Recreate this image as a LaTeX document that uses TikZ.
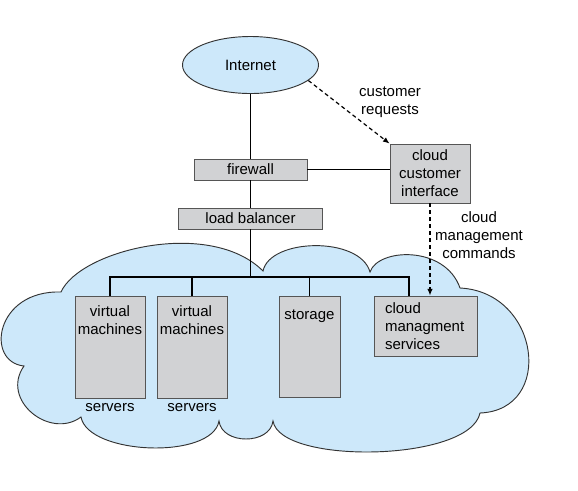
\documentclass[tikz,border=0pt]{standalone}
\usepackage{fontspec}
\setmainfont{Liberation Sans}
\usetikzlibrary{shapes.geometric,arrows.meta}

\definecolor{cloudblue}{RGB}{205,232,250}
\definecolor{boxgray}{RGB}{209,210,212}
\definecolor{edgegray}{RGB}{85,85,85}

\begin{document}
\begin{tikzpicture}[x=0.75pt,y=-0.75pt,
    every node/.style={font=\fontsize{11.25}{13.5}\selectfont},
    box/.style={draw=edgegray, fill=boxgray, line width=0.6pt, inner sep=0pt},
    wire/.style={line width=0.9pt},
    cmd/.style={line width=0.9pt, dash pattern=on 3pt off 2.25pt, -{Latex[length=5pt,width=4pt]}},
    boxtext/.style={anchor=north, inner sep=0pt, align=center}]
    \useasboundingbox (0,0) rectangle (578,490);

    % the cloud
    \draw[fill=cloudblue, line width=0.7pt, draw=black!80] (61,292)
        .. controls (80,250) and (210,218) .. (263,271)
        .. controls (270,238) and (360,236) .. (370,272)
        .. controls (378,248) and (445,245) .. (460,288)
        .. controls (540,292) and (555,410) .. (480,413)
        .. controls (470,462) and (280,465) .. (273,421)
        .. controls (270,445) and (222,445) .. (219,421)
        .. controls (212,460) and (88,455) .. (81,417)
        .. controls (50,440) and (0,400) .. (24,366)
        .. controls (-15,362) and (-5,290) .. (61,292) -- cycle;

    \node[ellipse, draw=black!80, fill=cloudblue, line width=0.7pt, minimum width=102pt, minimum height=42.75pt, inner sep=0pt] (internet) at (250.5,65) {Internet};
    \node[box, minimum width=84.75pt, minimum height=15.75pt] (firewall) at (250.5,169.5) {firewall};
    \node[box, minimum width=108pt, minimum height=15.75pt] (loadbal) at (250.5,218.5) {load balancer};
    \node[box, minimum width=60pt, minimum height=44.25pt, align=center] (cci) at (430,173.5) {cloud\\customer\\interface};

    % servers and storage
    \node[box, minimum width=52.5pt, minimum height=76.5pt] (vm1) at (110,347) {};
    \node[boxtext] (vm1txt) at ([yshift=-7.5pt]vm1.north) {virtual\\machines};
    \node[anchor=north] (vm1lbl) at (vm1.south) {servers};
    \node[box, minimum width=52.5pt, minimum height=76.5pt] (vm2) at (192,347) {};
    \node[boxtext] (vm2txt) at ([yshift=-7.5pt]vm2.north) {virtual\\machines};
    \node[anchor=north] (vm2lbl) at (vm2.south) {servers};
    \node[box, minimum width=45.75pt, minimum height=75.75pt] (storage) at (309.5,346.5) {};
    \node[boxtext] (storagetxt) at ([yshift=-10.5pt]storage.north) {storage};
    \node[box, minimum width=77.25pt, minimum height=45pt, text width=60.75pt, align=left, inner xsep=8.25pt] (cms) at (425.5,326) {cloud\\managment\\services};

    \coordinate (bus) at (250.5,277);
    \coordinate (cmsin) at (409,296);

    \draw[wire] (internet) -- (firewall);
    \draw[wire] (firewall) -- (loadbal);
    \draw[wire] (loadbal) -- (bus);
    \draw[wire] (vm1) |- (bus) -| (cmsin);
    \draw[wire] (vm2) -- (vm2 |- bus);
    \draw[wire] (storage) -- (storage |- bus);
    \draw[wire] (firewall.east) -- (firewall.east -| cci.west);

    % dashed requests and commands
    \draw[cmd] (internet.-15) -- (cci.north west);
    \node[align=center] (reqlbl) at (390,102) {customer\\requests};
    \draw[cmd] (cci.south) -- (cci.south |- cms.north);
    \node[align=center] (mgmtlbl) at (479,235) {cloud\\management\\commands};

\end{tikzpicture}
\end{document}
